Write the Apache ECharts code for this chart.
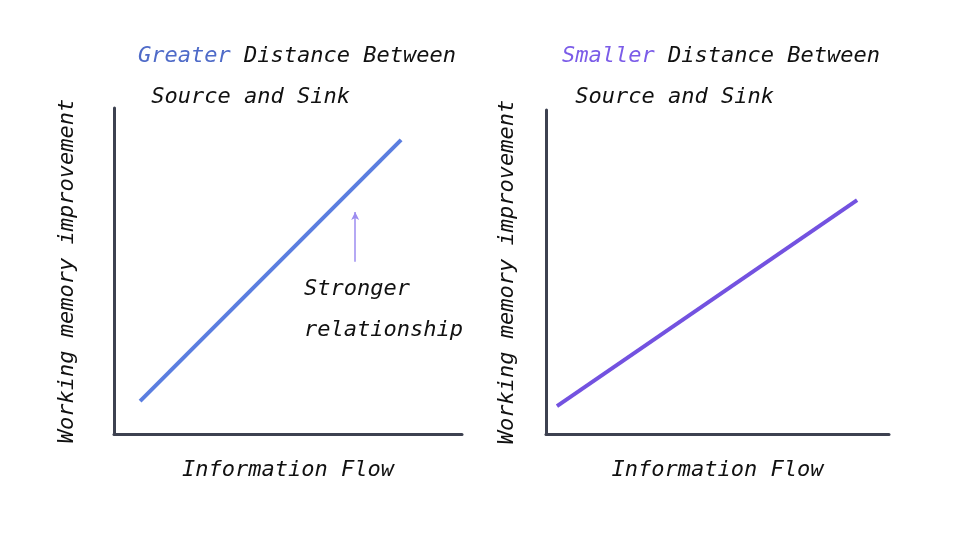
<!DOCTYPE html>
<html>
<head>
<meta charset="utf-8">
<script src="https://cdn.jsdelivr.net/npm/echarts@6/dist/echarts.min.js"></script>
<style>
  html, body { margin: 0; padding: 0; background: #fff; }
  #charts { width: 960px; height: 540px; }
</style>
</head>
<body>
<div id="charts"></div>
<script>
// 数据
var greaterFlow = [7.5, 82.5];
var greaterMemory = [10.1, 90.2];
var smallerFlow = [3.2, 90.7];
var smallerMemory = [8.6, 72.2];
var arrowFlow = [69.3, 69.3];
var arrowMemory = [52.8, 68.1];

var FONT = 'DejaVu Sans Mono';
var AXIS_COLOR = '#3d4150';
var BLUE = '#5b7ee0';
var PURPLE = '#7352e0';

function pairs(xs, ys) {
    var res = [];
    for (var i = 0; i < xs.length; i++) {
        res.push([xs[i], ys[i]]);
    }
    return res;
}

function makeX(index, gap) {
    return {
        gridIndex: index, type: 'value', min: 0, max: 100,
        name: 'Information Flow', nameLocation: 'middle', nameGap: gap,
        nameTextStyle: {fontFamily: FONT, fontStyle: 'italic', fontSize: 22, color: '#111'},
        axisLine: {show: true, lineStyle: {color: AXIS_COLOR, width: 3}},
        axisTick: {show: false}, axisLabel: {show: false}, splitLine: {show: false}
    };
}

function makeY(index, gap) {
    return {
        gridIndex: index, type: 'value', min: 0, max: 100,
        name: 'Working memory improvement', nameLocation: 'middle', nameGap: gap,
        nameTextStyle: {fontFamily: FONT, fontStyle: 'italic', fontSize: 22, color: '#111'},
        axisLine: {show: true, lineStyle: {color: AXIS_COLOR, width: 3}},
        axisTick: {show: false}, axisLabel: {show: false}, splitLine: {show: false}
    };
}

function makeTitle(left, word, color) {
    var base = {fontFamily: FONT, fontStyle: 'italic', fontWeight: 'normal', fontSize: 22, lineHeight: 41};
    return {
        left: left, top: 36, padding: 0,
        text: '{c|' + word + '}{k| Distance Between}\n{k| Source and Sink}',
        textStyle: {
            fontFamily: FONT, fontStyle: 'italic', fontWeight: 'normal', fontSize: 22, lineHeight: 41,
            rich: {
                c: Object.assign({color: color}, base),
                k: Object.assign({color: '#111'}, base)
            }
        }
    };
}

var myChart = echarts.init(document.getElementById('charts'));
myChart.setOption({
    backgroundColor: '#fff',
    animation: false,
    title: [
        makeTitle(138, 'Greater', '#4f6bc8'),
        makeTitle(562, 'Smaller', '#7b5ce8')
    ],
    grid: [
        {left: 114, top: 108, width: 348, height: 326},
        {left: 546, top: 110, width: 343, height: 324}
    ],
    xAxis: [makeX(0, 25), makeX(1, 25)],
    yAxis: [makeY(0, 36), makeY(1, 28)],
    graphic: [{
        type: 'text', left: 304, top: 269,
        style: {
            text: 'Stronger\nrelationship',
            fontFamily: FONT, fontStyle: 'italic', fontSize: 22,
            lineHeight: 41, fill: '#111'
        }
    }],
    series: [
        {
            type: 'line', xAxisIndex: 0, yAxisIndex: 0,
            data: pairs(greaterFlow, greaterMemory),
            symbol: 'none', lineStyle: {color: BLUE, width: 4},
            markLine: {
                silent: true, symbol: ['none', 'arrow'], symbolSize: [6, 8],
                lineStyle: {color: '#9c8cf0', width: 1.5, type: 'solid'},
                label: {show: false},
                data: [[
                    {coord: [arrowFlow[0], arrowMemory[0]]},
                    {coord: [arrowFlow[1], arrowMemory[1]]}
                ]]
            }
        },
        {
            type: 'line', xAxisIndex: 1, yAxisIndex: 1,
            data: pairs(smallerFlow, smallerMemory),
            symbol: 'none', lineStyle: {color: PURPLE, width: 4}
        }
    ]
});
</script>
</body>
</html>
